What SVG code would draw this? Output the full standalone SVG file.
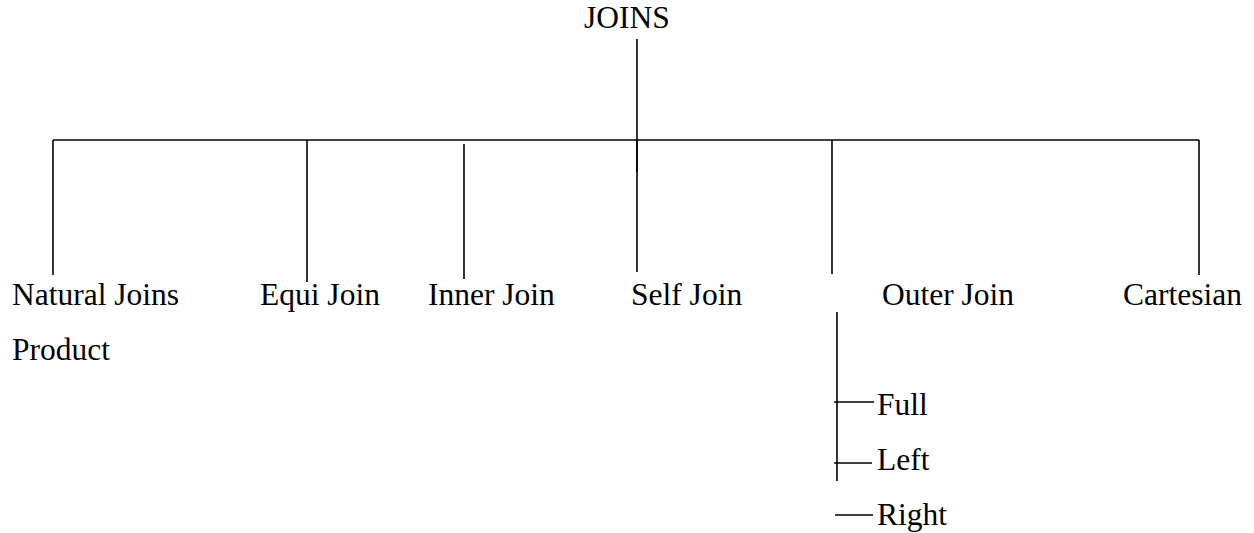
<svg xmlns="http://www.w3.org/2000/svg" width="1254" height="533" viewBox="0 0 1254 533">
<style>
text { font-family: "Liberation Serif", "Times New Roman", serif; font-size: 31.5px; fill: #000; }
.ln { stroke: #000; stroke-width: 1.6; fill: none; }
</style>
<rect width="1254" height="533" fill="#fff"/>
<g id="connectors">
<line class="ln" x1="637" y1="39" x2="637" y2="172"/>
<line class="ln" x1="53" y1="140" x2="1199" y2="140"/>
<line class="ln" x1="53" y1="140" x2="53" y2="275"/>
<line class="ln" x1="307" y1="140" x2="307" y2="282"/>
<line class="ln" x1="464" y1="144" x2="464" y2="279"/>
<line class="ln" x1="637" y1="140" x2="637" y2="272"/>
<line class="ln" x1="832" y1="140" x2="832" y2="274"/>
<line class="ln" x1="1199" y1="140" x2="1199" y2="275"/>
<line class="ln" x1="837" y1="312" x2="837" y2="481"/>
<line class="ln" x1="834" y1="402" x2="874" y2="402"/>
<line class="ln" x1="834" y1="463" x2="872" y2="463"/>
<line class="ln" x1="835" y1="515" x2="873" y2="515"/>
</g>
<g id="node-joins"><text x="584" y="28">JOINS</text></g>
<g id="node-natural"><text x="12" y="305">Natural Joins</text><text x="12" y="360">Product</text></g>
<g id="node-equi"><text x="260" y="305">Equi Join</text></g>
<g id="node-inner"><text x="428" y="305">Inner Join</text></g>
<g id="node-self"><text x="631" y="305">Self Join</text></g>
<g id="node-outer"><text x="882" y="305">Outer Join</text></g>
<g id="node-cartesian"><text x="1123" y="305">Cartesian</text></g>
<g id="node-full"><text x="877" y="415">Full</text></g>
<g id="node-left"><text x="877" y="470">Left</text></g>
<g id="node-right"><text x="877" y="525">Right</text></g>
</svg>
